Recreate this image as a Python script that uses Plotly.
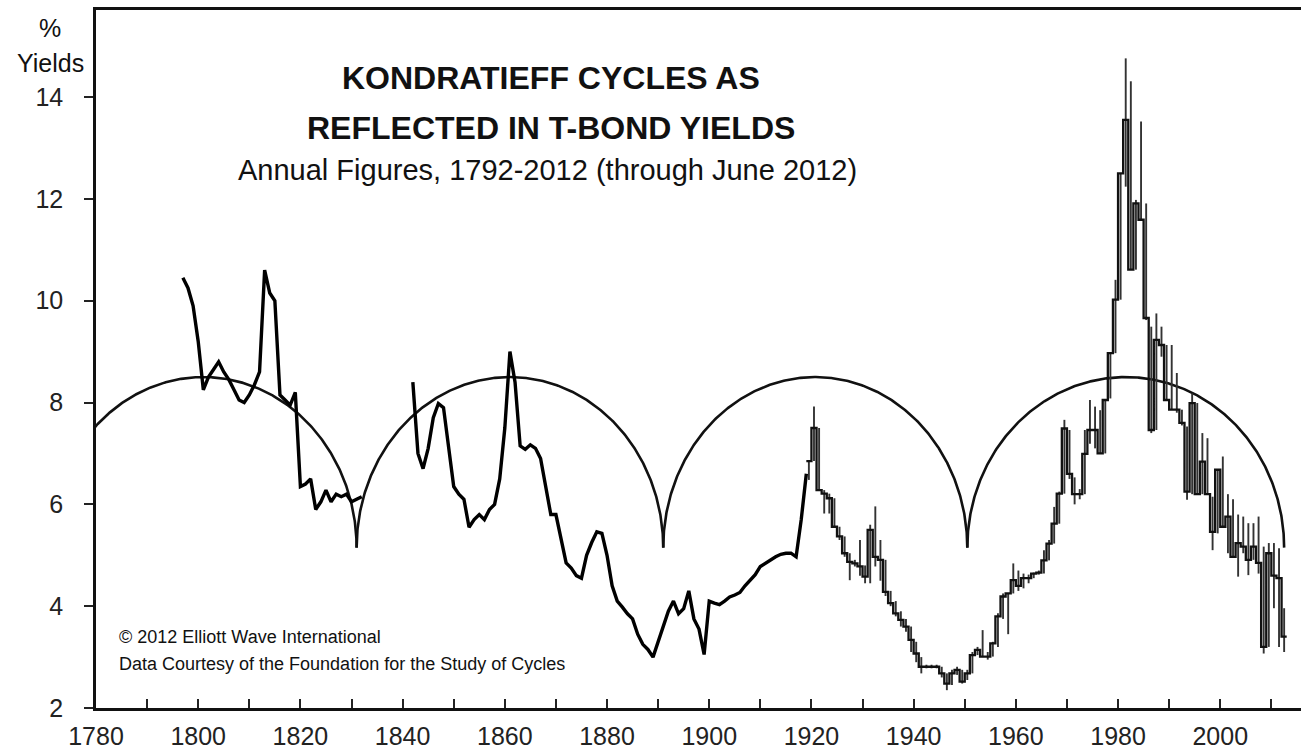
import numpy as np
import plotly.graph_objects as go

# ---- Early annual yields (thick line) ----
years_a = [1797, 1798, 1799, 1800, 1801, 1802, 1803, 1804, 1805, 1806, 1807, 1808, 1809,
           1810, 1811, 1812, 1813, 1814, 1815, 1816, 1817, 1818, 1819, 1820, 1821, 1822,
           1823, 1824, 1825, 1826, 1827, 1828, 1829, 1830, 1831, 1832]
yields_a = [10.45, 10.25, 9.9, 9.2, 8.25, 8.5, 8.65, 8.8, 8.6, 8.45, 8.25, 8.05, 8.0,
            8.15, 8.35, 8.6, 10.6, 10.15, 10.0, 8.15, 8.05, 7.95, 8.2, 6.35, 6.4, 6.5,
            5.9, 6.05, 6.28, 6.05, 6.2, 6.15, 6.2, 6.05, 6.1, 6.15]

years_b = list(range(1842, 1920))
yields_b = [8.4, 7.0, 6.7, 7.1, 7.7, 7.98, 7.9, 7.15, 6.35, 6.2,
            6.1, 5.55, 5.7, 5.8, 5.7, 5.9, 6.0, 6.5, 7.5, 9.0,
            8.4, 7.15, 7.08, 7.17, 7.1, 6.9, 6.3, 5.8, 5.8, 5.35,
            4.85, 4.75, 4.6, 4.55, 5.0, 5.25, 5.46, 5.43, 5.0, 4.4,
            4.1, 3.98, 3.85, 3.75, 3.45, 3.25, 3.15, 3.0, 3.3, 3.65,
            3.9, 4.1, 3.85, 3.95, 4.3, 3.75, 3.55, 3.05, 4.1, 4.06,
            4.03, 4.1, 4.18, 4.22, 4.27, 4.4, 4.5, 4.62, 4.78, 4.85,
            4.9, 4.97, 5.02, 5.04, 5.04, 4.97, 5.7, 6.6]

# ---- Later annual figures: close, low, high (step line + range bars) ----
years_c = list(range(1919, 2013))
close_c = [6.85, 7.50, 6.28, 6.21, 6.12, 5.56, 5.37, 5.04, 4.87, 4.84,
           4.78, 4.58, 5.50, 4.97, 4.91, 4.28, 4.06, 3.86, 3.73, 3.60,
           3.34, 3.07, 2.81, 2.81, 2.81, 2.81, 2.68, 2.48, 2.68, 2.75,
           2.52, 2.68, 3.04, 3.14, 3.01, 3.01, 3.27, 3.80, 4.19, 4.25,
           4.51, 4.40, 4.55, 4.55, 4.64, 4.66, 4.90, 5.23, 5.62, 6.21,
           7.49, 6.60, 6.20, 6.20, 6.99, 7.46, 7.46, 7.00, 8.05, 8.97,
           10.02, 12.50, 13.55, 10.61, 11.91, 11.59, 9.66, 7.46, 9.23, 9.13,
           8.05, 7.86, 7.86, 7.60, 6.25, 7.99, 6.20, 6.84, 6.20, 5.46,
           6.68, 5.56, 5.76, 4.97, 5.24, 5.17, 4.91, 5.17, 4.85, 3.20,
           5.04, 4.60, 4.55, 3.40]
low_c = [6.48, 6.85, 6.28, 5.82, 5.82, 5.56, 5.30, 4.97, 4.51, 4.78,
         4.60, 4.45, 4.45, 4.78, 4.50, 4.20, 4.00, 3.80, 3.60, 3.50,
         3.10, 2.90, 2.68, 2.78, 2.78, 2.78, 2.60, 2.35, 2.45, 2.65,
         2.48, 2.55, 2.68, 3.04, 3.00, 2.95, 3.01, 3.20, 3.75, 3.45,
         4.25, 4.30, 4.35, 4.45, 4.55, 4.62, 4.64, 4.90, 5.23, 5.62,
         6.21, 6.50, 6.00, 6.10, 6.20, 7.19, 7.10, 6.99, 7.00, 8.08,
         8.97, 10.02, 12.24, 10.61, 10.61, 11.59, 9.62, 7.40, 7.46, 8.90,
         8.05, 7.86, 7.80, 7.55, 6.09, 6.20, 6.20, 6.20, 6.20, 5.10,
         5.43, 5.56, 5.04, 4.97, 4.58, 5.04, 4.61, 4.91, 4.64, 3.07,
         3.20, 3.96, 3.20, 3.10]
high_c = [6.87, 7.92, 7.50, 6.28, 6.21, 6.12, 5.56, 5.37, 5.04, 4.91,
          5.30, 4.80, 5.60, 5.96, 5.30, 4.91, 4.30, 4.10, 3.90, 3.75,
          3.60, 3.30, 3.00, 2.85, 2.85, 2.85, 2.81, 2.68, 2.75, 2.81,
          2.75, 2.75, 3.10, 3.20, 3.53, 3.10, 3.30, 3.86, 4.25, 4.25,
          4.84, 4.70, 4.64, 4.62, 4.66, 4.70, 5.10, 5.30, 5.95, 6.25,
          7.66, 7.46, 6.53, 6.30, 7.46, 8.05, 7.92, 7.85, 8.05, 8.97,
          10.41, 12.50, 14.76, 14.31, 11.98, 13.52, 11.91, 9.49, 9.75, 9.49,
          9.13, 9.13, 8.58, 7.86, 7.53, 8.18, 7.99, 7.40, 7.30, 6.15,
          6.68, 6.94, 6.20, 6.10, 5.80, 5.76, 5.63, 5.63, 5.76, 5.17,
          5.24, 5.24, 5.14, 3.96]

# ---- Kondratieff cycle arcs ----
cycle_troughs = [1771, 1831, 1891, 1950.5, 2012.5]
cycle_peak = 8.5
cycle_base = 5.15

x_ticks = list(range(1780, 2001, 20))
y_ticks = [2, 4, 6, 8, 10, 12, 14]

FONT = "Liberation Sans, Arial, Helvetica, sans-serif"

fig = go.Figure()

# arcs (half ellipses between consecutive troughs)
arc_x, arc_y = [], []
for a, b in zip(cycle_troughs[:-1], cycle_troughs[1:]):
    c = (a + b) / 2
    r = (b - a) / 2
    t = np.linspace(np.pi, 0, 400)
    arc_x += list(c + r * np.cos(t)) + [None]
    arc_y += list(cycle_base + (cycle_peak - cycle_base) * np.sin(t)) + [None]
fig.add_trace(go.Scatter(x=arc_x, y=arc_y, mode="lines",
                         line=dict(color="#111111", width=2.6),
                         hoverinfo="skip", showlegend=False))

# early thick line
fig.add_trace(go.Scatter(x=years_a + [None] + years_b,
                         y=yields_a + [None] + yields_b,
                         mode="lines", line=dict(color="black", width=3.4),
                         connectgaps=False, showlegend=False))

# range bars
bx, by = [], []
for yr, lo, hi in zip(years_c, low_c, high_c):
    bx += [yr + 0.5, yr + 0.5, None]
    by += [lo, hi, None]
fig.add_trace(go.Scatter(x=bx, y=by, mode="lines",
                         line=dict(color="#333333", width=1.9),
                         showlegend=False))

# step line of annual closes
fig.add_trace(go.Scatter(x=years_c + [years_c[-1] + 1],
                         y=close_c + [close_c[-1]],
                         mode="lines", line=dict(color="#111111", width=2.3, shape="hv"),
                         showlegend=False))

fig.update_layout(
    width=1301, height=756,
    margin=dict(l=96, r=0, t=10, b=48),
    paper_bgcolor="white", plot_bgcolor="white",
    font=dict(family=FONT, color="#222222"),
    xaxis=dict(range=[1780, 2015.8], tickvals=x_ticks, ticks="inside", ticklen=9,
               tickwidth=1.5, tickcolor="#222", automargin=False,
               minor=dict(tickvals=list(range(1790, 2011, 20)), ticks="inside",
                          ticklen=9, tickwidth=1.5, tickcolor="#222"),
               showline=True, linecolor="#111", linewidth=2.6, mirror=True,
               showgrid=False, zeroline=False, tickfont=dict(size=25, color="#222"),
               ticklabelstandoff=4),
    yaxis=dict(range=[2, 15.71], tickvals=y_ticks, ticks="outside", ticklen=9,
               tickwidth=1.5, tickcolor="#222", automargin=False,
               showline=True, linecolor="#111", linewidth=2.6,
               showgrid=False, zeroline=False, tickfont=dict(size=25, color="#222"),
               ticklabelstandoff=16),
)

ann = [
    dict(text="%", x=-0.038, y=0.974, size=25, anchor="center"),
    dict(text="Yields", x=-0.038, y=0.924, size=25, anchor="center"),
    dict(text="<b>KONDRATIEFF CYCLES AS</b>", x=0.378, y=0.9026, size=32, anchor="center"),
    dict(text="<b>REFLECTED IN T-BOND YIELDS</b>", x=0.378, y=0.831, size=32, anchor="center"),
    dict(text="Annual Figures, 1792-2012 (through June 2012)", x=0.375, y=0.771, size=29, anchor="center"),
    dict(text="© 2012 Elliott Wave International", x=0.0174, y=0.1017, size=18, anchor="left"),
    dict(text="Data Courtesy of the Foundation for the Study of Cycles", x=0.0174, y=0.063, size=18, anchor="left"),
]
for a in ann:
    fig.add_annotation(text=a["text"], xref="paper", yref="paper", x=a["x"], y=a["y"],
                       xanchor=a["anchor"], yanchor="middle", showarrow=False,
                       font=dict(family=FONT, size=a["size"], color="#111111"))

fig.write_html("out.html", config={"displayModeBar": False},
               post_script="document.body.style.margin='0';document.body.style.overflow='hidden';")
